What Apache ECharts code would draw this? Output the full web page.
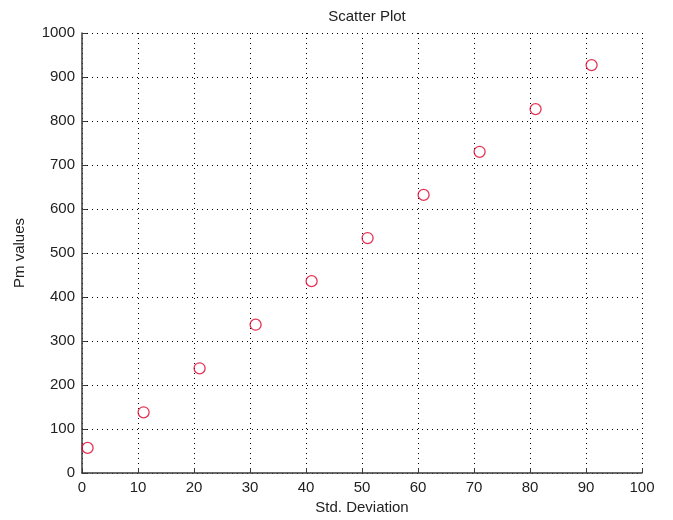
<!DOCTYPE html>
<html>
<head>
<meta charset="utf-8">
<script src="https://cdn.jsdelivr.net/npm/echarts@6/dist/echarts.min.js"></script>
<style>
  html, body { margin: 0; padding: 0; background: #fff; }
  #chart { width: 673px; height: 520px; }
</style>
</head>
<body>
<div id="chart"></div>
<script>
// std. deviation (x) and Pm values (y)
const stdDev = [1, 11, 21, 31, 41, 51, 61, 71, 81, 91];
const pmValues = [57, 138, 238, 337, 436, 534, 632, 730, 827, 927];

const chart = echarts.init(document.getElementById("chart"));

const font = "Liberation Sans, Arial, sans-serif";
const axisColor = "#3a3a3a";

const points = stdDev.map((x, i) => [x, pmValues[i]]);

const option = {
  backgroundColor: "#fff",
  animation: false,
  title: {
    text: "Scatter Plot",
    left: 362,
    top: 4,
    textAlign: "center",
    textStyle: { fontFamily: font, fontSize: 15, fontWeight: "normal", color: "#222" },
  },
  grid: { left: 82, right: 31, top: 33, bottom: 47 },
  xAxis: {
    type: "value",
    min: 0,
    max: 100,
    interval: 10,
    name: "Std. Deviation",
    nameLocation: "middle",
    nameGap: 27,
    nameTextStyle: { fontFamily: font, fontSize: 15, color: "#222" },
    axisLine: { lineStyle: { color: axisColor, width: 1.5 } },
    axisTick: { inside: true, length: 5, lineStyle: { color: axisColor } },
    axisLabel: { fontFamily: font, fontSize: 15, color: "#222", margin: 7 },
    splitLine: { show: true, lineStyle: { color: "#000", type: [1, 4], width: 1 } },
  },
  yAxis: {
    type: "value",
    min: 0,
    max: 1000,
    interval: 100,
    name: "Pm values",
    nameLocation: "middle",
    nameGap: 55,
    nameRotate: 90,
    nameTextStyle: { fontFamily: font, fontSize: 15, color: "#222" },
    axisLine: { show: true, lineStyle: { color: axisColor, width: 1.5 } },
    axisTick: { show: true, inside: true, length: 5, lineStyle: { color: axisColor } },
    axisLabel: {
      fontFamily: font,
      fontSize: 15,
      color: "#222",
      margin: 7,
      formatter: (v) => String(v),
    },
    splitLine: { show: true, lineStyle: { color: "#000", type: [1, 4], width: 1 } },
  },
  series: [
    {
      type: "scatter",
      data: points,
      symbol: "circle",
      symbolSize: 11,
      itemStyle: { color: "rgba(0,0,0,0)", borderColor: "#e0002a", borderWidth: 1.3 },
    },
  ],
};

chart.setOption(option);
</script>
</body>
</html>
